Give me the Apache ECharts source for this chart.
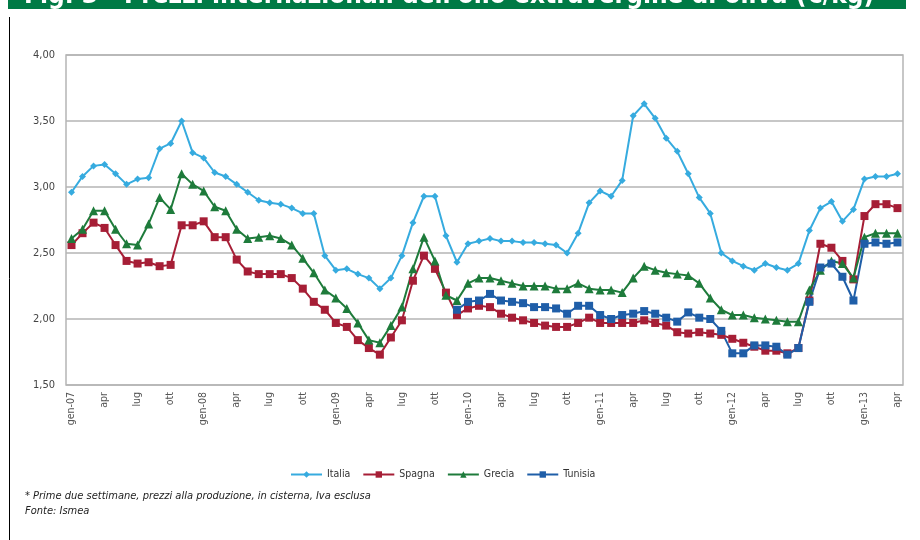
<!DOCTYPE html>
<html>
<head>
<meta charset="utf-8">
<script src="https://cdn.jsdelivr.net/npm/echarts@6/dist/echarts.min.js"></script>
<style>
  html, body { margin: 0; padding: 0; background: #fff; }
  #chart { width: 920px; height: 540px; }
</style>
</head>
<body>
<div id="chart"></div>
<script>
// mesi e anni per l'asse x (gen-07 .. apr-13)
var mesi = ['gen', 'feb', 'mar', 'apr', 'mag', 'giu', 'lug', 'ago', 'set', 'ott', 'nov', 'dic'];
var anni = ['07', '08', '09', '10', '11', '12', '13'];
var nMesi = 76;

var italia = [2.96, 3.08, 3.16, 3.17, 3.10, 3.02, 3.06, 3.07, 3.29, 3.33, 3.50, 3.26,
  3.22, 3.11, 3.08, 3.02, 2.96, 2.90, 2.88, 2.87, 2.84, 2.80, 2.80, 2.48,
  2.37, 2.38, 2.34, 2.31, 2.23, 2.31, 2.48, 2.73, 2.93, 2.93, 2.63, 2.43,
  2.57, 2.59, 2.61, 2.59, 2.59, 2.58, 2.58, 2.57, 2.56, 2.50, 2.65, 2.88,
  2.97, 2.93, 3.05, 3.54, 3.63, 3.52, 3.37, 3.27, 3.10, 2.92, 2.80, 2.50,
  2.44, 2.40, 2.37, 2.42, 2.39, 2.37, 2.42, 2.67, 2.84, 2.89, 2.74, 2.83,
  3.06, 3.08, 3.08, 3.10];

var spagna = [2.56, 2.65, 2.73, 2.69, 2.56, 2.44, 2.42, 2.43, 2.40, 2.41, 2.71, 2.71,
  2.74, 2.62, 2.62, 2.45, 2.36, 2.34, 2.34, 2.34, 2.31, 2.23, 2.13, 2.07,
  1.97, 1.94, 1.84, 1.78, 1.73, 1.86, 1.99, 2.29, 2.48, 2.38, 2.20, 2.03,
  2.08, 2.10, 2.09, 2.04, 2.01, 1.99, 1.97, 1.95, 1.94, 1.94, 1.97, 2.01,
  1.97, 1.97, 1.97, 1.97, 1.99, 1.97, 1.95, 1.90, 1.89, 1.90, 1.89, 1.88,
  1.85, 1.82, 1.79, 1.76, 1.76, 1.74, 1.78, 2.14, 2.57, 2.54, 2.44, 2.30,
  2.78, 2.87, 2.87, 2.84];

var grecia = [2.61, 2.68, 2.82, 2.82, 2.68, 2.57, 2.56, 2.72, 2.92, 2.83, 3.10, 3.02,
  2.97, 2.85, 2.82, 2.68, 2.61, 2.62, 2.63, 2.61, 2.56, 2.46, 2.35, 2.22,
  2.16, 2.08, 1.97, 1.84, 1.82, 1.95, 2.09, 2.38, 2.62, 2.44, 2.18, 2.14,
  2.27, 2.31, 2.31, 2.29, 2.27, 2.25, 2.25, 2.25, 2.23, 2.23, 2.27, 2.23,
  2.22, 2.22, 2.20, 2.31, 2.40, 2.37, 2.35, 2.34, 2.33, 2.27, 2.16, 2.07,
  2.03, 2.03, 2.01, 2.00, 1.99, 1.98, 1.98, 2.22, 2.37, 2.44, 2.42, 2.31,
  2.62, 2.65, 2.65, 2.65];

// Tunisia parte da dic-09
var tunisia = [null, null, null, null, null, null, null, null, null, null, null, null,
  null, null, null, null, null, null, null, null, null, null, null, null,
  null, null, null, null, null, null, null, null, null, null, null, 2.07,
  2.13, 2.14, 2.19, 2.14, 2.13, 2.12, 2.09, 2.09, 2.08, 2.04, 2.10, 2.10,
  2.03, 2.00, 2.03, 2.04, 2.06, 2.04, 2.01, 1.98, 2.05, 2.01, 2.00, 1.91,
  1.74, 1.74, 1.80, 1.80, 1.79, 1.73, 1.78, 2.13, 2.39, 2.42, 2.32, 2.14,
  2.57, 2.58, 2.57, 2.58];

var categorie = [];
for (var i = 0; i < nMesi; i++) {
  var m = i % 12;
  categorie.push(m === 0 ? mesi[m] + '-' + anni[Math.floor(i / 12)] : mesi[m]);
}

var titolo = "Fig. 3 - Prezzi internazionali dell'olio extravergine di oliva (€/kg)";
var nota = '* Prime due settimane, prezzi alla produzione, in cisterna, Iva esclusa';
var fonte = 'Fonte: Ismea';

var colori = ['#36abdf', '#a61e36', '#1e7b3b', '#1f5ea8'];
var font = '"Liberation Sans Narrow", "DejaVu Sans Condensed", sans-serif';

function serie(nome, dati, simbolo, dim, colore) {
  return {
    name: nome, type: 'line', data: dati,
    symbol: simbolo, symbolSize: dim, showSymbol: true, showAllSymbol: true,
    lineStyle: { width: 2, color: colore },
    itemStyle: { color: colore },
    connectNulls: false
  };
}

var chart = echarts.init(document.getElementById('chart'));
chart.setOption({
  backgroundColor: '#fff',
  animation: false,
  grid: { left: 66, right: 17, top: 55, bottom: 155, show: true, borderColor: '#b5b5b5', borderWidth: 1.5 },
  xAxis: {
    type: 'category', data: categorie, boundaryGap: true,
    axisLine: { show: false },
    axisTick: { show: false },
    axisLabel: {
      interval: 2, rotate: 90, margin: 7,
      fontFamily: font, fontSize: 10.5, color: '#555'
    },
    splitLine: { show: false }
  },
  yAxis: {
    type: 'value', min: 1.5, max: 4, interval: 0.5,
    axisLine: { show: false },
    axisTick: { show: false },
    axisLabel: {
      margin: 11, fontFamily: font, fontSize: 11, color: '#444',
      formatter: function (v) { return v.toFixed(2).replace('.', ','); }
    },
    splitLine: { lineStyle: { color: '#b5b5b5', width: 1.5 } }
  },
  legend: {
    left: 285, top: 464, itemWidth: 31, itemHeight: 8, itemGap: 12,
    textStyle: { fontFamily: font, fontSize: 10.5, color: '#333' },
    data: ['Italia', 'Spagna', 'Grecia', 'Tunisia']
  },
  series: [
    serie('Italia', italia, 'diamond', 7, colori[0]),
    serie('Spagna', spagna, 'rect', 8, colori[1]),
    serie('Grecia', grecia, 'triangle', 9, colori[2]),
    serie('Tunisia', tunisia, 'rect', 8, colori[3])
  ],
  graphic: [
    { type: 'rect', shape: { x: 8, y: 0, width: 898, height: 9 }, style: { fill: '#007a45' }, silent: true },
    { type: 'text', x: 24, y: 9, style: {
        text: titolo, fill: '#fff', verticalAlign: 'bottom',
        font: 'bold 26px ' + font
      }, silent: true },
    { type: 'line', shape: { x1: 9.5, y1: 17, x2: 9.5, y2: 540 }, style: { stroke: '#000', lineWidth: 1 }, silent: true },
    { type: 'text', x: 25, y: 491, style: {
        text: nota, fill: '#222', font: 'italic 11px ' + font
      }, silent: true },
    { type: 'text', x: 25, y: 506, style: {
        text: fonte, fill: '#222', font: 'italic 11px ' + font
      }, silent: true }
  ]
});
</script>
</body>
</html>
